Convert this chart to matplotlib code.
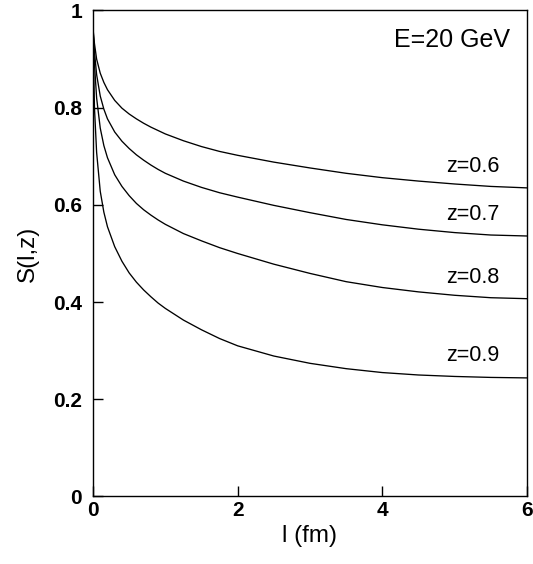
import numpy as np
import matplotlib
matplotlib.use("Agg")
import matplotlib.pyplot as plt

plt.rcParams['font.family'] = ['Liberation Sans', 'DejaVu Sans']

# path length l (fm)
l_fm = [0.0, 0.02, 0.05, 0.1, 0.15, 0.2, 0.3, 0.4, 0.5, 0.6, 0.7, 0.8, 0.9,
        1.0, 1.25, 1.5, 1.75, 2.0, 2.5, 3.0, 3.5, 4.0, 4.5, 5.0, 5.5, 6.0]

# S(l,z)
s_z06 = [0.963, 0.932, 0.900, 0.871, 0.852, 0.837, 0.815, 0.799, 0.787, 0.777,
         0.768, 0.760, 0.753, 0.746, 0.732, 0.720, 0.710, 0.702, 0.688, 0.676,
         0.665, 0.656, 0.649, 0.643, 0.638, 0.635]
s_z07 = [0.963, 0.915, 0.868, 0.824, 0.797, 0.777, 0.750, 0.731, 0.716, 0.703,
         0.692, 0.682, 0.673, 0.665, 0.649, 0.636, 0.625, 0.616, 0.599, 0.584,
         0.570, 0.559, 0.550, 0.543, 0.538, 0.536]
s_z08 = [0.963, 0.890, 0.820, 0.758, 0.722, 0.697, 0.662, 0.638, 0.619, 0.603,
         0.590, 0.579, 0.569, 0.560, 0.541, 0.526, 0.512, 0.500, 0.478, 0.459,
         0.442, 0.430, 0.421, 0.414, 0.409, 0.407]
s_z09 = [0.963, 0.800, 0.708, 0.628, 0.585, 0.555, 0.514, 0.484, 0.460, 0.441,
         0.425, 0.411, 0.398, 0.387, 0.363, 0.343, 0.325, 0.310, 0.289, 0.274,
         0.263, 0.255, 0.250, 0.247, 0.245, 0.244]

curves = [s_z06, s_z07, s_z08, s_z09]
labels = ['z=0.6', 'z=0.7', 'z=0.8', 'z=0.9']
label_y = [0.668, 0.569, 0.439, 0.279]

fig = plt.figure(figsize=(5.33, 5.64), dpi=100)
ax = fig.add_axes([0.1745, 0.1197, 0.8142, 0.8617])

for s in curves:
    ax.plot(l_fm, s, color='black', lw=0.95)

for lab, y in zip(labels, label_y):
    ax.text(5.62, y, lab, ha='right', va='baseline', fontsize=15.5)

ax.text(5.77, 0.925, 'E=20 GeV', ha='right', va='baseline', fontsize=18)

ax.set_xlim(0, 6)
ax.set_ylim(0, 1)
ax.set_xticks([0, 2, 4, 6])
ax.set_xticklabels(['0', '2', '4', '6'])
ax.set_yticks([0, 0.2, 0.4, 0.6, 0.8, 1.0])
ax.set_yticklabels(['0', '0.2', '0.4', '0.6', '0.8', '1'])
ax.tick_params(direction='in', length=7, width=1, labelsize=15)
ax.tick_params(axis='y', pad=8)
ax.tick_params(axis='x', pad=3)
for t in ax.get_xticklabels() + ax.get_yticklabels():
    t.set_fontweight('bold')
for sp in ax.spines.values():
    sp.set_linewidth(1.0)

ax.set_xlabel('l (fm)', fontsize=17.5, labelpad=4)
ax.set_ylabel('S(l,z)', fontsize=17.5, labelpad=10)

fig.savefig('out.png', dpi=100)
